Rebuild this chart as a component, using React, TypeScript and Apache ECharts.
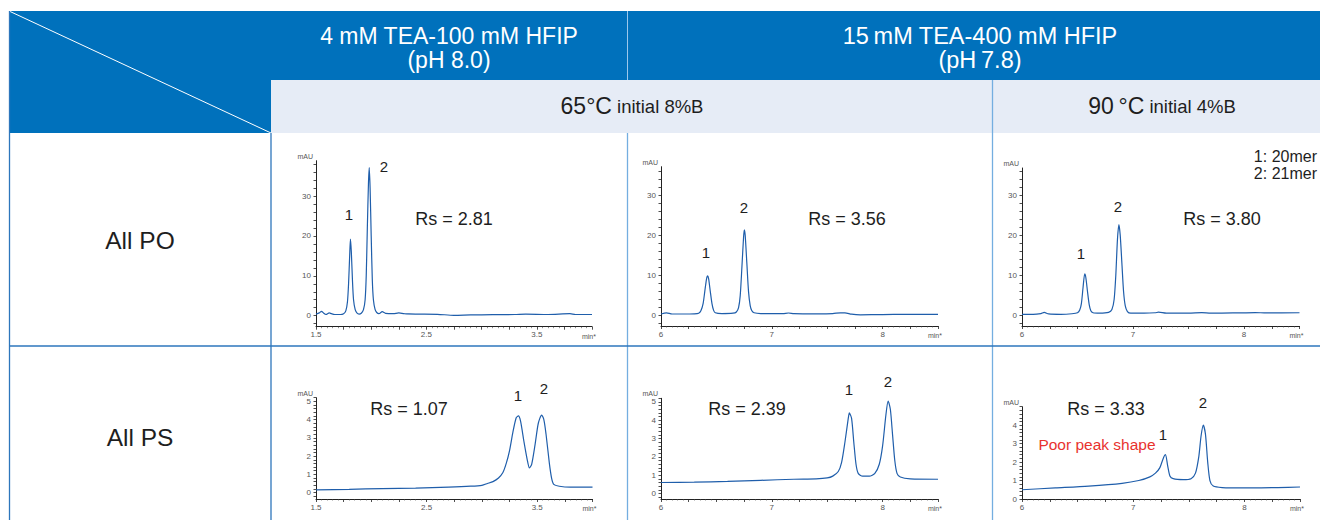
import React, { useEffect, useRef } from 'react';
import * as echarts from 'echarts';

// ---------- DATA ----------
const poLow: number[][] = [
  [1.5, 0.4], [1.53, 0.7], [1.55, 1.1], [1.57, 0.6], [1.59, 0.3], [1.62, 0.7], [1.64, 0.5], [1.67, 0.3],
  [1.72, 0.3], [1.75, 0.5], [1.77, 1.2], [1.785, 3.5], [1.795, 8], [1.805, 15], [1.812, 19.2], [1.82, 16],
  [1.83, 9], [1.84, 4], [1.855, 1.5], [1.87, 0.7], [1.89, 0.4], [1.91, 0.6], [1.93, 1.5], [1.945, 4],
  [1.955, 10], [1.965, 22], [1.975, 33], [1.982, 37.1], [1.99, 32], [2.0, 20], [2.01, 9], [2.02, 4],
  [2.035, 1.6], [2.05, 0.8], [2.07, 0.5], [2.1, 1.0], [2.13, 0.6], [2.2, 0.5], [2.25, 0.7], [2.3, 0.5],
  [2.4, 0.4], [2.6, 0.35], [2.75, 0.1], [2.9, 0.2], [3.1, 0.25], [3.3, 0.3], [3.4, 0.4], [3.6, 0.3],
  [3.8, 0.5], [3.85, 0.3], [4.0, 0.3],
];
const poHigh65: number[][] = [
  [6.0, 0.4], [6.05, 0.7], [6.1, 0.4], [6.2, 0.4], [6.3, 0.45], [6.34, 0.6], [6.36, 1.2], [6.38, 3],
  [6.395, 6], [6.41, 9], [6.42, 9.9], [6.43, 9.2], [6.445, 6], [6.46, 3], [6.475, 1.3], [6.49, 0.7],
  [6.55, 0.5], [6.65, 0.6], [6.68, 0.9], [6.7, 2], [6.715, 5], [6.73, 12], [6.745, 19.5], [6.752, 21.4],
  [6.76, 20], [6.775, 13], [6.79, 6], [6.805, 2.5], [6.82, 1.2], [6.84, 0.7], [6.9, 0.5], [7.0, 0.5],
  [7.1, 0.5], [7.15, 0.65], [7.2, 0.5], [7.4, 0.45], [7.55, 0.5], [7.62, 0.7], [7.66, 0.7], [7.72, 0.35],
  [7.8, 0.2], [8.0, 0.25], [8.2, 0.3], [8.5, 0.3],
];
const poHigh90: number[][] = [
  [6.0, 0.3], [6.1, 0.3], [6.17, 0.5], [6.2, 0.8], [6.24, 0.4], [6.35, 0.3], [6.45, 0.45], [6.5, 0.7],
  [6.52, 1.4], [6.535, 3], [6.55, 7], [6.565, 10.4], [6.575, 9.5], [6.59, 6], [6.605, 2.8], [6.62, 1.2],
  [6.64, 0.7], [6.7, 0.6], [6.78, 0.8], [6.81, 1.5], [6.83, 4], [6.845, 10], [6.86, 19], [6.873, 22.7],
  [6.885, 20], [6.9, 13], [6.915, 6], [6.93, 2.5], [6.95, 1.0], [6.98, 0.6], [7.1, 0.6], [7.2, 0.7],
  [7.23, 0.85], [7.3, 0.6], [7.5, 0.6], [7.62, 0.75], [7.7, 0.6], [7.9, 0.65], [8.1, 0.75], [8.2, 0.65],
  [8.5, 0.7],
];
const psLow: number[][] = [
  [1.5, 0.15], [1.8, 0.18], [2.1, 0.22], [2.4, 0.25], [2.7, 0.3], [2.9, 0.35], [3.0, 0.4], [3.05, 0.5],
  [3.1, 0.6], [3.15, 0.8], [3.19, 1.1], [3.22, 1.6], [3.25, 2.3], [3.28, 3.3], [3.31, 4.1], [3.33, 4.2],
  [3.35, 3.9], [3.38, 2.8], [3.41, 1.8], [3.43, 1.35], [3.45, 1.55], [3.48, 2.6], [3.51, 3.8], [3.54, 4.25],
  [3.56, 4.0], [3.58, 3.2], [3.61, 1.6], [3.63, 0.8], [3.65, 0.45], [3.7, 0.35], [3.8, 0.3], [4.0, 0.3],
];
const psHigh65: number[][] = [
  [6.0, 0.6], [6.3, 0.62], [6.6, 0.66], [6.9, 0.72], [7.2, 0.78], [7.4, 0.8], [7.5, 0.85], [7.55, 0.95],
  [7.6, 1.2], [7.63, 1.7], [7.66, 2.8], [7.69, 4.1], [7.7, 4.4], [7.72, 4.1], [7.74, 2.8], [7.76, 1.6],
  [7.78, 1.1], [7.82, 0.95], [7.88, 0.95], [7.93, 1.1], [7.97, 1.6], [8.0, 2.6], [8.03, 4.3], [8.05, 5.05],
  [8.07, 4.6], [8.09, 3.2], [8.11, 1.8], [8.13, 1.1], [8.16, 0.9], [8.25, 0.8], [8.5, 0.78],
];
const psHigh90: number[][] = [
  [6.0, 0.5], [6.3, 0.6], [6.6, 0.7], [6.9, 0.85], [7.05, 1.0], [7.15, 1.2], [7.2, 1.4], [7.24, 1.7],
  [7.27, 2.2], [7.29, 2.4], [7.31, 1.8], [7.33, 1.25], [7.36, 1.1], [7.45, 1.05], [7.52, 1.1], [7.56, 1.4],
  [7.59, 2.3], [7.61, 3.4], [7.63, 4.0], [7.65, 3.5], [7.67, 2.0], [7.69, 1.0], [7.72, 0.7], [7.8, 0.62],
  [8.0, 0.6], [8.3, 0.62], [8.5, 0.65],
];

const traces = [poLow, poHigh65, poHigh90, psLow, psHigh65, psHigh90];

const xRanges = [[1.5, 4.0], [6, 8.5], [6, 8.5], [1.5, 4.0], [6, 8.5], [6, 8.5]];
const yRanges = [[-2.76, 38.85], [-2.6, 37.2], [-2.6, 36.8], [-0.35, 5.2], [-0.3, 5.2], [0, 5]];

const xLabelsLow = [1.5, 2.5, 3.5];
const xLabelsHigh = [6, 7, 8];
const yLabelsPO = [0, 10, 20, 30];
const yLabelsPS = [0, 1, 2, 3, 4, 5];
const yLabelsPS90 = [0, 1, 2, 3, 4];
const yTicksPO = [-2, 0, 2, 4, 6, 8, 10, 12, 14, 16, 18, 20, 22, 24, 26, 28, 30, 32, 34, 36, 38];
const yTicksPS = [-0.2, 0, 0.2, 0.4, 0.6, 0.8, 1, 1.2, 1.4, 1.6, 1.8, 2, 2.2, 2.4, 2.6, 2.8, 3, 3.2, 3.4, 3.6, 3.8, 4, 4.2, 4.4, 4.6, 4.8, 5, 5.2];

const xLabelSets = [xLabelsLow, xLabelsHigh, xLabelsHigh, xLabelsLow, xLabelsHigh, xLabelsHigh];
const yLabelSets = [yLabelsPO, yLabelsPO, yLabelsPO, yLabelsPS, yLabelsPS, yLabelsPS90];
const yTickSets = [yTicksPO, yTicksPO, yTicksPO, yTicksPS, yTicksPS, yTicksPS];

const headerCol1 = ['4 mM TEA-100 mM HFIP', '(pH 8.0)'];
const headerCol2 = ['15\u2009mM TEA-400 mM HFIP', '(pH\u20097.8)'];
const tempLabels = [['65°C', 'initial 8%B'], ['90\u2009°C', 'initial 4%B']];
const rowLabels = ['All PO', 'All PS'];
const rsLabels = ['Rs = 2.81', 'Rs = 3.56', 'Rs = 3.80', 'Rs = 1.07', 'Rs = 2.39', 'Rs = 3.33'];
const legendLines = ['1: 20mer', '2: 21mer'];
const noteText = 'Poor peak shape';

// ---------- LAYOUT ----------
const gridBoxes = [
  { left: 316, top: 160.7, width: 276, height: 166 },
  { left: 661, top: 166.7, width: 277, height: 159.3 },
  { left: 1022, top: 168, width: 277.5, height: 158 },
  { left: 316, top: 397.7, width: 276.5, height: 101.3 },
  { left: 661, top: 398.3, width: 277, height: 100.7 },
  { left: 1022, top: 406.7, width: 278, height: 92.3 },
];
const rsPos = [[454, 219], [847, 219], [1222, 219], [409, 409], [747, 409], [1106, 409]];
const peakPos = [
  [[349, 214], [384, 166]],
  [[706, 252], [744, 207]],
  [[1081, 253], [1118, 206]],
  [[518, 395], [544, 388]],
  [[849, 389], [888, 381]],
  [[1163, 434], [1203, 402]],
];

const FONT = '"Liberation Sans", Arial, Helvetica, sans-serif';
const BLUE = '#0071BC';
const LIGHT = '#E6ECF6';
const LINE_DARK = '#2D76BC';
const LINE_LIGHT = '#74AEE0';
const TRACE = '#1F5EAB';
const INK = '#1E1E1E';

function buildOption() {
  const grid = gridBoxes.map((b) => ({ ...b, containLabel: false }));
  const xAxis = traces.map((_, i) => ({
    type: 'value',
    gridIndex: i,
    min: xRanges[i][0],
    max: xRanges[i][1],
    interval: 0.25,
    axisLine: { show: true, onZero: false, lineStyle: { color: '#222', width: 1 } },
    axisTick: { show: true, length: 3, lineStyle: { color: '#222', width: 0.8 } },
    minorTick: { show: true, splitNumber: 5, length: 1.5, lineStyle: { color: '#444', width: 0.6 } },
    axisLabel: { customValues: xLabelSets[i], fontSize: 8, color: '#555', margin: 4, fontFamily: FONT },
    splitLine: { show: false },
    minorSplitLine: { show: false },
    name: 'min*',
    nameLocation: 'end',
    nameGap: 4,
    nameTextStyle: { fontSize: 7, color: '#555', align: 'right', verticalAlign: 'top', padding: [6, 0, 0, 0], fontFamily: FONT },
  }));
  const yAxis = traces.map((_, i) => ({
    type: 'value',
    gridIndex: i,
    min: yRanges[i][0],
    max: yRanges[i][1],
    axisLine: { show: true, onZero: false, lineStyle: { color: '#222', width: 1 } },
    axisTick: { show: true, length: 2.5, customValues: yTickSets[i], lineStyle: { color: '#222', width: 0.8 } },
    axisLabel: { customValues: yLabelSets[i], fontSize: 8, color: '#555', margin: 5, fontFamily: FONT },
    splitLine: { show: false },
    name: 'mAU',
    nameLocation: 'end',
    nameGap: 1,
    nameTextStyle: { fontSize: 7, color: '#555', align: 'right', verticalAlign: 'bottom', padding: [0, 3, 0, 0], fontFamily: FONT },
  }));
  const series = traces.map((d, i) => ({
    type: 'line',
    xAxisIndex: i,
    yAxisIndex: i,
    data: d,
    showSymbol: false,
    smooth: 0.25,
    lineStyle: { color: TRACE, width: 1.2 },
    silent: true,
  }));

  const txt = (x: number, y: number, text: string, size: number, fill = INK, align = 'center', lineHeight?: number) => ({
    type: 'text',
    x,
    y,
    silent: true,
    style: { text, x: 0, y: 0, fill, fontSize: size, fontFamily: FONT, align, verticalAlign: 'middle', lineHeight },
  });
  const ln = (x1: number, y1: number, x2: number, y2: number, stroke: string, w = 1) => ({
    type: 'line',
    silent: true,
    shape: { x1, y1, x2, y2 },
    style: { stroke, lineWidth: w },
  });

  const graphic: any[] = [
    { type: 'rect', silent: true, shape: { x: 9, y: 11, width: 1311, height: 69 }, style: { fill: BLUE } },
    { type: 'rect', silent: true, shape: { x: 9, y: 80, width: 262, height: 53 }, style: { fill: BLUE } },
    { type: 'rect', silent: true, shape: { x: 271, y: 80, width: 1049, height: 53 }, style: { fill: LIGHT } },
    ln(9, 11, 271, 133, '#FFFFFF', 1),
    ln(627.5, 11, 627.5, 80, '#9CC8EC', 1),
    ln(992.5, 80, 992.5, 520, LINE_LIGHT, 1.3),
    ln(627.5, 133, 627.5, 520, LINE_LIGHT, 1.3),
    ln(271, 133, 271, 520, LINE_DARK, 1.3),
    ln(9.5, 11, 9.5, 520, LINE_DARK, 1.3),
    ln(9, 346, 1320, 346, LINE_DARK, 1.5),
    txt(449, 48, headerCol1.join('\n'), 23, '#FFFFFF', 'center', 24),
    txt(980, 48, headerCol2.join('\n'), 23.5, '#FFFFFF', 'center', 24),
    ...tempLabels.map((t, i) => ({
      type: 'text',
      x: i === 0 ? 632 : 1162,
      y: 106,
      silent: true,
      style: {
        text: `{a|${t[0]}}{b| ${t[1]}}`,
        x: 0,
        y: 0,
        align: 'center',
        verticalAlign: 'middle',
        rich: {
          a: { fontSize: 23, fill: INK, fontFamily: FONT },
          b: { fontSize: 18.5, fill: INK, fontFamily: FONT },
        },
      },
    })),
    txt(140, 240, rowLabels[0], 24.5),
    txt(140, 437, rowLabels[1], 24.5),
    ...rsLabels.map((t, i) => txt(rsPos[i][0], rsPos[i][1], t, 18)),
    ...peakPos.flatMap((pp) => pp.map((p, k) => txt(p[0], p[1], String(k + 1), 15))),
    txt(1317, 156, legendLines[0], 16, INK, 'right'),
    txt(1317, 173, legendLines[1], 16, INK, 'right'),
    txt(1097, 444, noteText, 15.5, '#E8322E'),
  ];

  return { animation: false, backgroundColor: '#FFFFFF', grid, xAxis, yAxis, series, graphic };
}

export default function App() {
  const ref = useRef<HTMLDivElement>(null);
  useEffect(() => {
    if (!ref.current) return;
    const chart = echarts.init(ref.current, null, { renderer: 'svg' });
    chart.setOption(buildOption() as any);
    return () => chart.dispose();
  }, []);
  return (
    <div
      ref={ref}
      style={{ position: 'fixed', left: 0, top: 0, width: 1320, height: 520, background: '#fff' }}
    />
  );
}
